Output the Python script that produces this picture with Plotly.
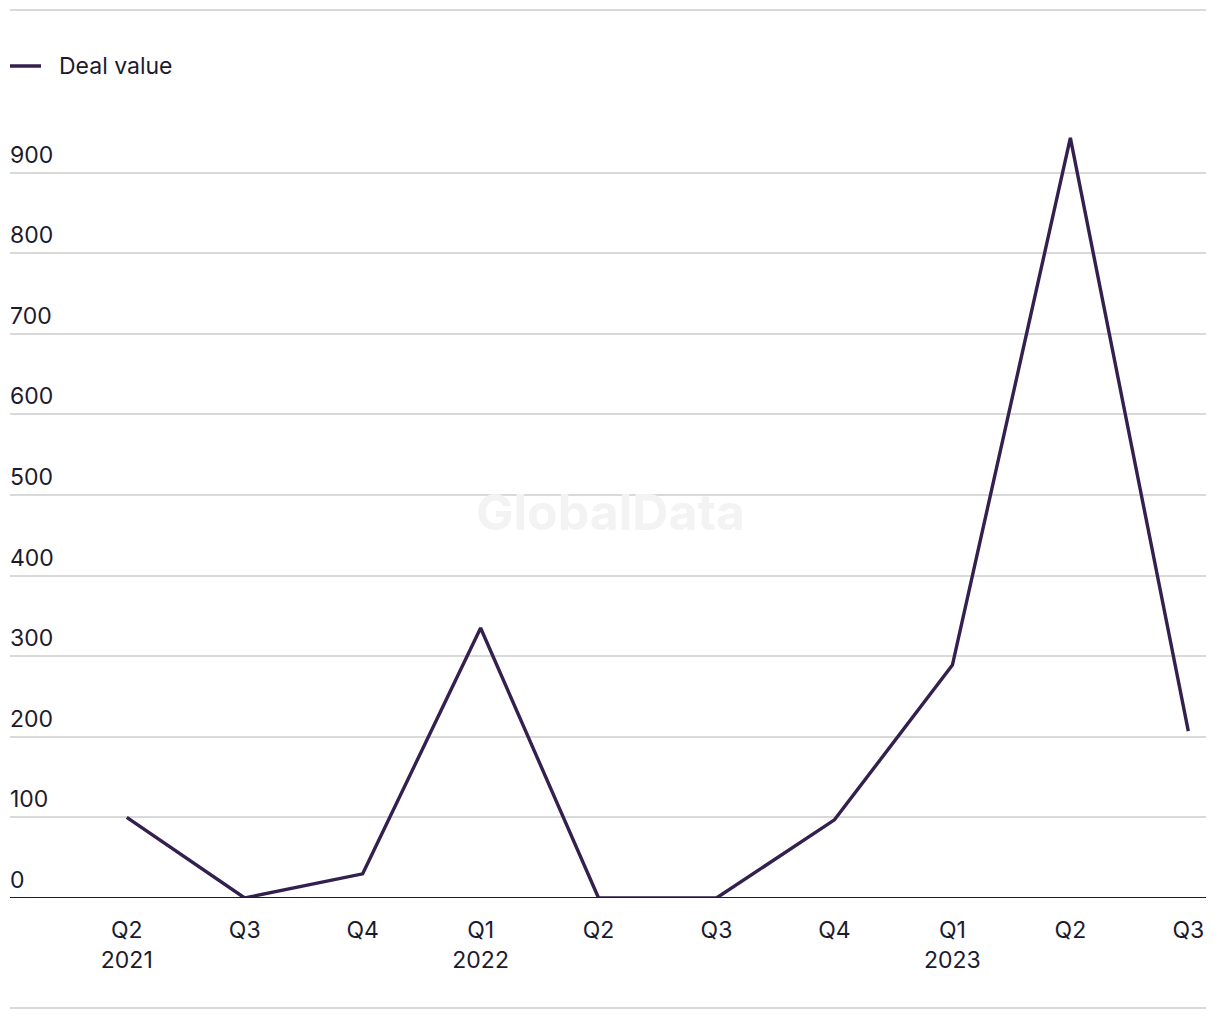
import plotly.graph_objects as go

quarters = ["Q2<br>2021", "Q3", "Q4", "Q1<br>2022", "Q2", "Q3", "Q4", "Q1<br>2023", "Q2", "Q3"]
deal_value = [100, 0, 30, 335, 0, 0, 97, 289, 943, 207]
y_ticks = [0, 100, 200, 300, 400, 500, 600, 700, 800, 900]

LINE = "#33204f"
TEXT = "#1c1b2e"
GRID = "#d9d9d9"
FONT = "Inter, Liberation Sans, Arial, sans-serif"

x_idx = list(range(len(quarters)))

fig = go.Figure()
fig.add_trace(go.Scatter(
    x=x_idx, y=deal_value, mode="lines", name="Deal value",
    line=dict(color=LINE, width=3.4), showlegend=False,
))

fig.update_layout(
    width=1220, height=1020,
    margin=dict(l=10, r=14, t=92, b=122),
    paper_bgcolor="white", plot_bgcolor="white",
    font=dict(family=FONT, color=TEXT, size=22),
    xaxis=dict(
        range=[-0.99, 9.15], tickmode="array", tickvals=x_idx, ticktext=quarters,
        showgrid=False, zeroline=False, showline=False, ticks="",
        tickfont=dict(size=23, color=TEXT), ticklabelstandoff=16,
    ),
    yaxis=dict(
        range=[0, 1000], tickvals=y_ticks, showticklabels=False,
        showgrid=True, gridcolor=GRID, gridwidth=1.5, zeroline=False, ticks="",
    ),
)

# zero baseline
fig.add_shape(type="line", xref="paper", yref="y", x0=0, x1=1, y0=0, y1=0,
              line=dict(color=TEXT, width=2))

# y tick labels above gridlines
for v in y_ticks:
    fig.add_annotation(x=0, xref="paper", y=v, yref="y", text=str(v),
                       showarrow=False, xanchor="left", yanchor="bottom",
                       yshift=2, xshift=-2, font=dict(size=23, color=TEXT))

# top and bottom rules
fig.add_shape(type="line", xref="paper", yref="paper", x0=0, x1=1,
              y0=(898 - 10) / 806, y1=(898 - 10) / 806,
              line=dict(color=GRID, width=2))
fig.add_shape(type="line", xref="paper", yref="paper", x0=0, x1=1,
              y0=-(1008 - 898) / 806, y1=-(1008 - 898) / 806,
              line=dict(color=GRID, width=2))

# legend
legend_y = (898 - 66) / 806
fig.add_shape(type="line", xref="paper", yref="paper", x0=0, x1=31 / 1196,
              y0=legend_y, y1=legend_y, line=dict(color=LINE, width=3.5))
fig.add_annotation(x=47 / 1196, xref="paper", y=legend_y, yref="paper", text="Deal value",
                   showarrow=False, xanchor="left", yanchor="middle",
                   font=dict(size=23, color=TEXT))

# watermark
fig.add_annotation(x=(610 - 10) / 1196, xref="paper", y=(898 - 512) / 806, yref="paper",
                   text="<b>GlobalData</b>", showarrow=False,
                   font=dict(size=50, color="#f3f3f3"))

fig.write_html("out.html")
